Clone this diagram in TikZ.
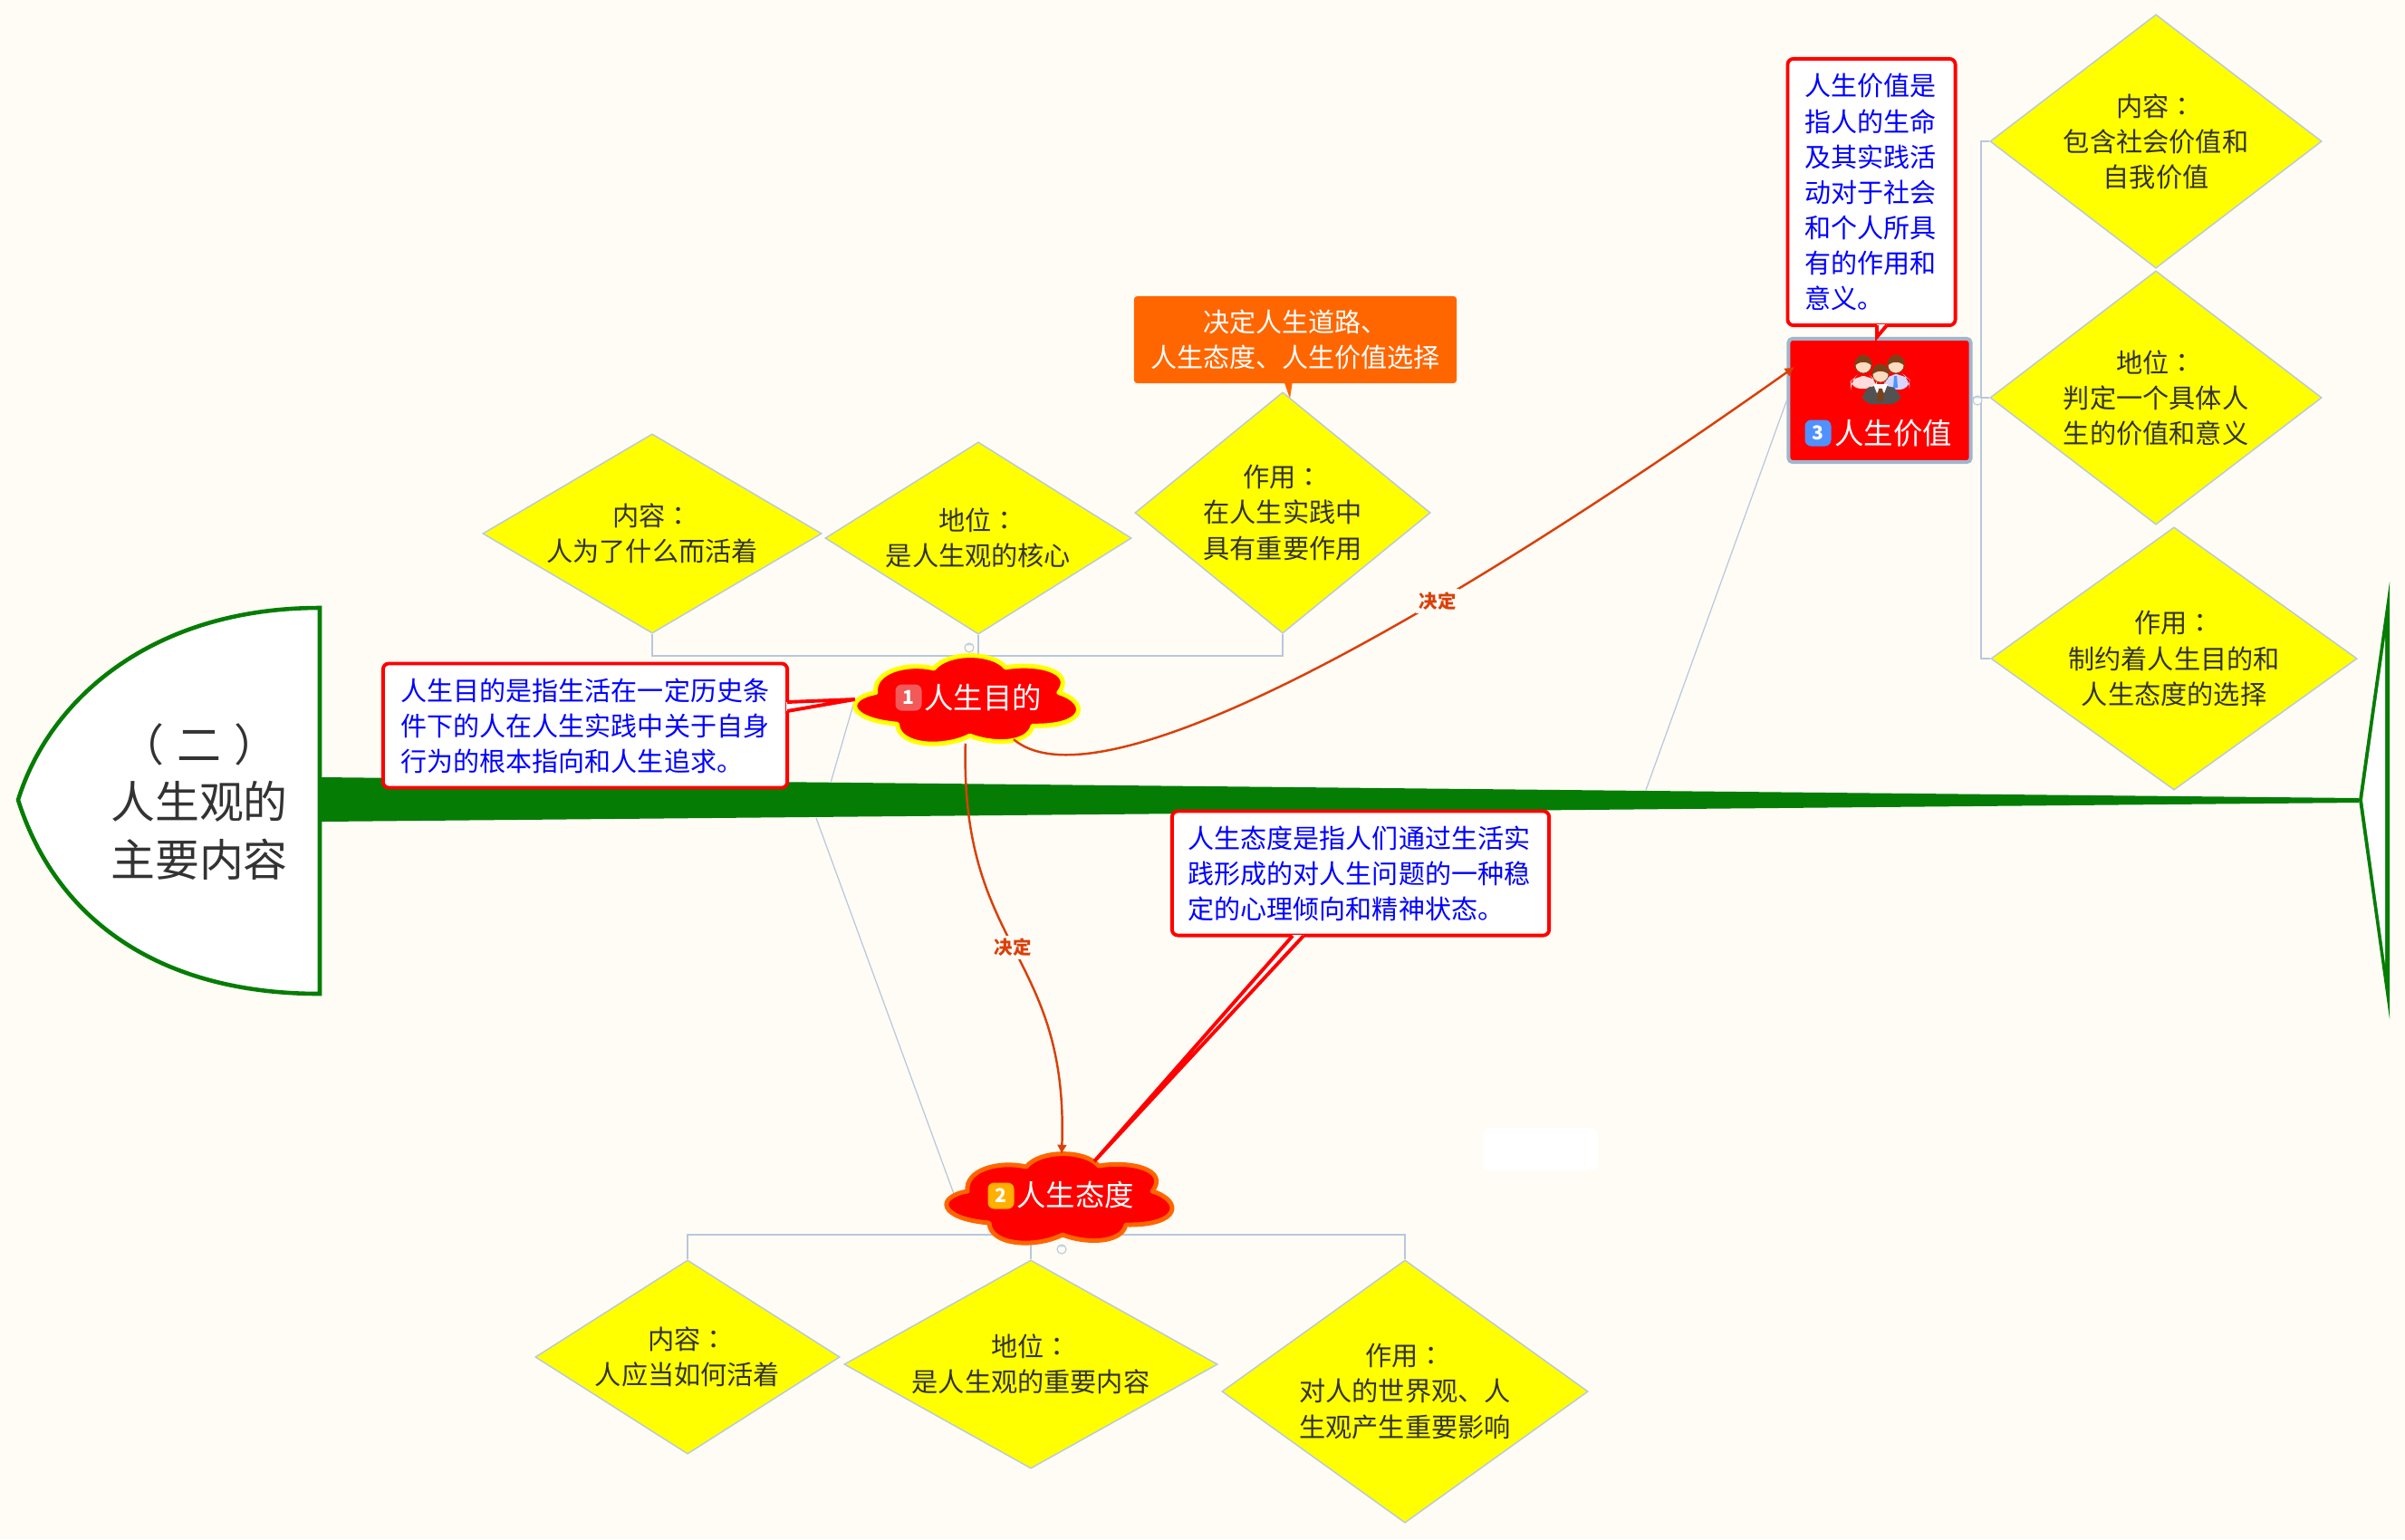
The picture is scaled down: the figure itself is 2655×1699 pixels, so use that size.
\documentclass[tikz,border=0pt]{standalone}
\usepackage{fontspec}
\setmainfont{Noto Sans CJK SC}
\newfontfamily\tcfont{Noto Sans CJK TC}
\newcommand{\maohao}{{\tcfont ：}}
\usetikzlibrary{arrows.meta,shapes.geometric}
\definecolor{BeiJing}{RGB}{255,252,245}
\definecolor{ZhuGreen}{RGB}{5,125,5}
\definecolor{HuiLan}{RGB}{184,200,220}
\definecolor{KuangLan}{RGB}{159,182,207}
\definecolor{GuanXi}{RGB}{217,64,10}
\definecolor{ChengSe}{RGB}{255,102,0}
\definecolor{ZiHei}{RGB}{51,51,51}
\definecolor{HuangSe}{RGB}{255,255,0}
\definecolor{HongSe}{RGB}{255,0,0}
\definecolor{LanSe}{RGB}{0,0,255}
\definecolor{FenHong}{RGB}{242,90,90}
\definecolor{ShuChen}{RGB}{255,176,0}
\definecolor{ShuLan}{RGB}{79,146,255}
\definecolor{FaZong}{RGB}{125,65,25}
\definecolor{LianSe}{RGB}{253,220,192}
\newcommand{\yunlun}{(90,15) .. controls (105,-4) and (155,-4) .. (170,14)
  .. controls (205,8) and (248,18) .. (229,42)
  .. controls (262,52) and (262,80) .. (200,79)
  .. controls (195,100) and (155,100) .. (130,90)
  .. controls (100,105) and (50,102) .. (49,77)
  .. controls (-8,72) and (-10,48) .. (25,42)
  .. controls (22,18) and (60,8) .. (90,15) -- cycle}
\tikzset{
  zhi/.style={diamond,fill=HuangSe,draw=HuiLan,line width=0.4pt,inner sep=0pt,align=center,text=ZiHei,
    font=\fontsize{8.3}{11.1}\selectfont},
  fenzhi/.style={draw=HuiLan,line width=0.5pt},
  zhuxian/.style={draw=HuiLan,line width=0.35pt},
  shuoming/.style={draw=HongSe,fill=white,line width=1.1pt,rounded corners=1.8pt,align=left,text=LanSe,inner sep=0pt,
    font=\fontsize{8.25}{11.1}\selectfont},
  yunwei/.style={ellipse,inner sep=0pt,minimum height=0.96cm},
  yun/.style={fill=HongSe,line width=1.4pt,line join=round},
  wenzi/.style={text=white,inner sep=0pt,font=\fontsize{9.2}{11}\selectfont},
  xuhao/.style={text=white,inner sep=0pt,minimum size=0.29cm,rounded corners=2pt,font=\fontsize{6}{6}\selectfont\bfseries},
  guanxi/.style={draw=GuanXi,line width=0.7pt,-{Latex[length=3pt,width=3.2pt]}},
  jueding/.style={fill=BeiJing,text=GuanXi,inner sep=1pt,font=\fontsize{5.8}{6}\selectfont\bfseries},
  shouqi/.style={circle,draw=HuiLan,fill=BeiJing,line width=0.3pt,inner sep=0pt,minimum size=0.1cm,text=HuiLan,
    font=\fontsize{4}{4}\selectfont},
}
\begin{document}
\begin{tikzpicture}[x=0.01cm,y=-0.01cm]
  \useasboundingbox (0,0) rectangle (2655,1699);
  \fill[BeiJing] (0,0) rectangle (2655,1699);
  \fill[white,rounded corners=2pt] (1637,1245) rectangle (1764,1292);

  \coordinate (g1) at (917,864);
  \coordinate (g2) at (901,903);
  \coordinate (g3) at (1817,872);
  \coordinate (g4) at (1053,1318);
  \coordinate (vtip) at (1981,405);

  \fill[ZhuGreen] (355,858) -- (2604,881) -- (2604,886) -- (355,907) -- cycle;
  \fill[ZhuGreen] (2604,883) -- (2638,642) -- (2638,1125) -- cycle;
  \fill[white] (2608,883) -- (2633,704) -- (2633,1064) -- cycle;
  \draw[ZhuGreen,fill=white,line width=1.3pt,line join=miter]
    (353,671) .. controls (170,671) and (55,770) .. (20,883)
    .. controls (60,1010) and (170,1097) .. (353,1097) -- cycle;
  \node[align=center,text=ZiHei,inner sep=0pt,font=\fontsize{13.9}{18}\selectfont] (tou) at (220,885) {（\kern4.1pt 二\kern4.1pt ）\\人生观的\\主要内容};

  \node[zhi,minimum width=3.74cm,minimum height=2.2cm,shape aspect=1.7] (d1) at (720,589) {内容\maohao\\人为了什么而活着};
  \node[zhi,minimum width=3.38cm,minimum height=2.12cm,shape aspect=1.59] (d2) at (1080,594) {地位\maohao\\是人生观的核心};
  \coordinate (otip) at (1424,440);
  \fill[ChengSe] (1417,420) -- (otip) -- (1427,420) -- cycle;
  \node[zhi,minimum width=3.26cm,minimum height=2.66cm,shape aspect=1.23] (d3) at (1416,566) {作用\maohao\\在人生实践中\\具有重要作用};
  \node[zhi,minimum width=3.66cm,minimum height=2.8cm,shape aspect=1.31] (r1) at (2380,156) {内容\maohao\\包含社会价值和\\自我价值};
  \node[zhi,minimum width=3.66cm,minimum height=2.8cm,shape aspect=1.31] (r2) at (2380,439) {地位\maohao\\判定一个具体人\\生的价值和意义};
  \node[zhi,minimum width=4.04cm,minimum height=2.9cm,shape aspect=1.39] (r3) at (2400,727) {作用\maohao\\制约着人生目的和\\人生态度的选择};
  \node[zhi,minimum width=3.36cm,minimum height=2.14cm,shape aspect=1.57] (b1) at (759,1498) {内容\maohao\\人应当如何活着};
  \node[zhi,minimum width=4.12cm,minimum height=2.3cm,shape aspect=1.79] (b2) at (1138,1506) {地位\maohao\\是人生观的重要内容};
  \node[zhi,minimum width=4.04cm,minimum height=2.9cm,shape aspect=1.39] (b3) at (1551,1536) {作用\maohao\\对人的世界观、人\\生观产生重要影响};

  \node[yunwei,minimum width=2.45cm] (c1) at (1067,772) {};
  \node[yunwei,minimum width=2.5cm] (c2) at (1172,1323) {};
  \node[draw=KuangLan,fill=HongSe,line width=1.14pt,rounded corners=1.2pt,minimum width=2.01cm,minimum height=1.36cm] (v) at (2075,442) {};

  \draw[zhuxian] (g1) -- (c1.west);
  \draw[zhuxian] (g2) -- (g4);
  \draw[zhuxian] (g3) -- (v.west);
  \draw[fenzhi] (d1.south) -- ++(0,24) -| (d3.south);
  \draw[fenzhi] (d2.south) -- (d2.south |- c1.north);
  \draw[fenzhi] (r1.west) -- ++(-9,0) |- (r3.west);
  \draw[fenzhi] (v.east |- r2.west) -- (r2.west);
  \draw[fenzhi] (b1.north) -- ++(0,-27) -| (b3.north);
  \draw[fenzhi] (b2.north |- c2.south) -- (b2.north);

  \begin{scope}[shift={(942,723)},scale=0.99]
    \draw[yun,draw=HuangSe] \yunlun;
  \end{scope}
  \begin{scope}[shift={(1043,1273)}]
    \draw[yun,draw=ChengSe] \yunlun;
  \end{scope}

  \node[shouqi] (s1) at (1070,715) {−};
  \node[shouqi] (s2) at (1172,1379) {−};
  \node[shouqi] (s3) at (2183,442) {−};

  \node[xuhao,fill=FenHong] (n1) at (1003,770) {1};
  \node[wenzi] (t1) at (1085,770) {人生目的};
  \node[xuhao,fill=ShuChen] (n2) at (1105,1320) {2};
  \node[wenzi] (t2) at (1187,1319) {人生态度};
  \node[xuhao,fill=ShuLan] (n3) at (2007,478) {3};
  \node[wenzi] (t3) at (2090,478) {人生价值};

  \foreach \px/\py/\shen/\lft/\rgt/\shang/\xia in {2057/403/red!14!white/2043/2072/415/429,2093/403/blue!16!white/2080/2108/413/430,2076/413/ZiHei!85!white/2056/2098/425/446} {
    \fill[\shen,rounded corners=3pt] (\lft,\xia) -- (\lft,\shang+6) -- (\px-8,\shang) -- (\px+8,\shang) -- (\rgt,\shang+6) -- (\rgt,\xia) -- cycle;
    \fill[LianSe,draw=FaZong,line width=0.2pt] (\px,\py) circle (0.09cm);
    \fill[FaZong] (\px-10,\py+2) .. controls (\px-10,\py-16) and (\px+10,\py-16) .. (\px+10,\py+2) .. controls (\px+6,\py-5) and (\px-6,\py-5) .. cycle;
  }
  \fill[white] (2068,424) -- (2084,424) -- (2080,434) -- (2076,428) -- (2072,434) -- cycle;
  \fill[FaZong] (2074,429) -- (2078,429) -- (2080,441) -- (2076,444) -- (2072,441) -- cycle;
  \fill[ShuLan] (2091,415) -- (2094,415) -- (2095,428) -- (2090,428) -- cycle;

  \node[shuoming,text width=1.47cm,minimum width=1.85cm,minimum height=2.94cm] (m3) at (2066,212)
    {人生价值是\\指人的生命\\及其实践活\\动对于社会\\和个人所具\\有的作用和\\意义。};
  \coordinate (m3tip) at (2072,372);
  \fill[white] (2072,358) -- (m3tip) -- (2083,358) -- cycle;
  \draw[HongSe,line width=1.1pt] (2072,359) -- (m3tip) -- (2083,359);

  \node[shuoming,text width=4.06cm,minimum width=4.46cm,minimum height=1.37cm] (m1) at (646,801)
    {人生目的是指生活在一定历史条\\件下的人在人生实践中关于自身\\行为的根本指向和人生追求。};
  \fill[white] (868,775) -- (c1.west) -- (868,785) -- cycle;
  \draw[HongSe,line width=1.1pt] (869,775) -- (c1.west) -- (869,785);

  \node[shuoming,text width=3.8cm,minimum width=4.16cm,minimum height=1.37cm] (m2) at (1502,964)
    {人生态度是指人们通过生活实\\践形成的对人生问题的一种稳\\定的心理倾向和精神状态。};
  \coordinate (m2tip) at (1208,1282);
  \fill[white] (1427,1032) -- (m2tip) -- (1439,1032) -- cycle;
  \draw[HongSe,line width=1.1pt] (1427,1033) -- (m2tip) -- (1439,1033);

  \node[fill=ChengSe,text=white,rounded corners=1pt,align=center,inner sep=0pt,minimum width=3.56cm,minimum height=0.96cm,
    font=\fontsize{8.25}{11.1}\selectfont] (o1) at (1430,375) {决定人生道路、\\人生态度、人生价值选择};

  \draw[guanxi] (c1) .. controls (1200,885) and (1500,745) .. (vtip) node[jueding,pos=0.69] (l1) {决定};
  \draw[guanxi] (c1) .. controls (1060,1050) and (1180,1050) .. (c2.north) node[jueding,pos=0.49] (l2) {决定};
\end{tikzpicture}
\end{document}
